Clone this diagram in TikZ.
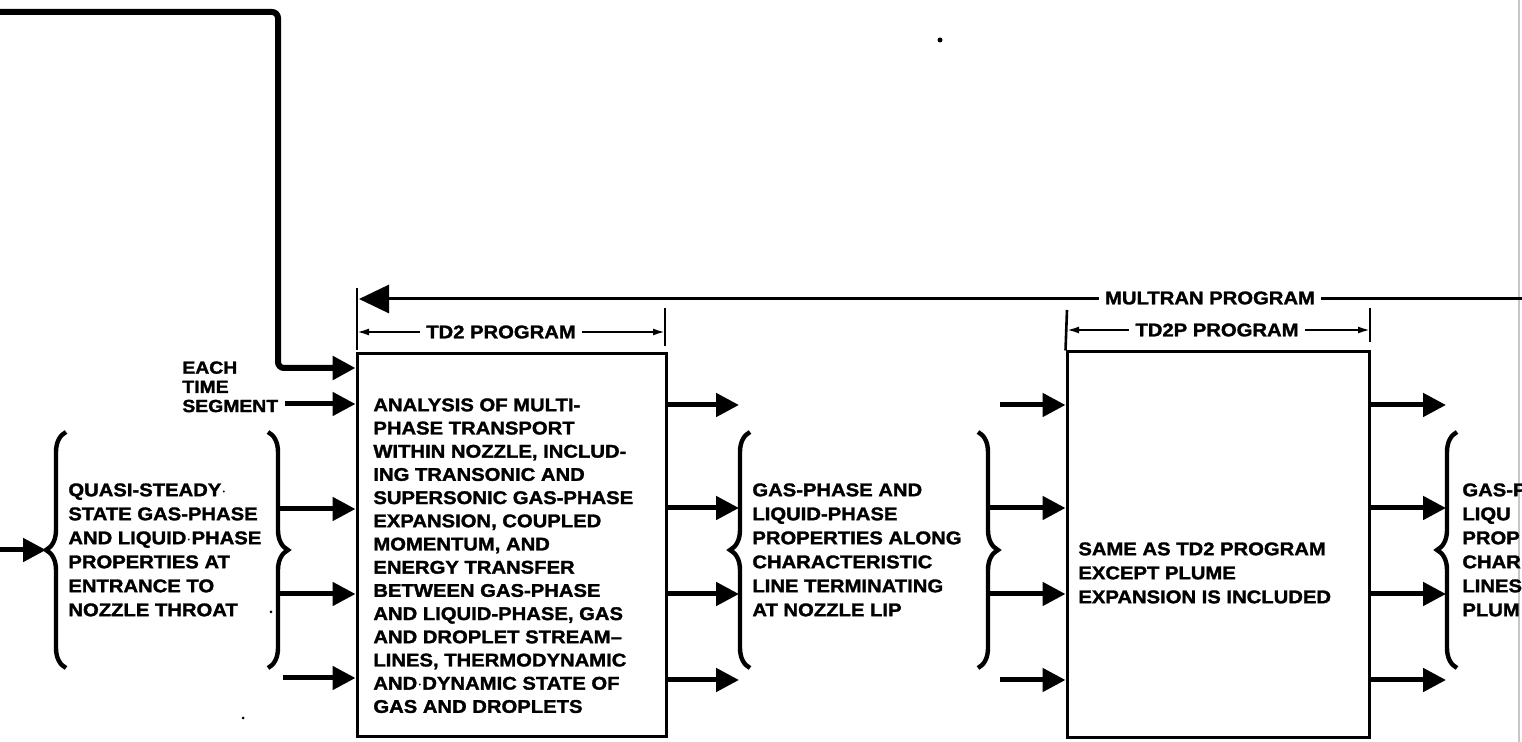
\documentclass[tikz,border=0pt]{standalone}
\usepackage{fontspec}
\newfontfamily\scanfont{Liberation Sans Bold}[FakeStretch=1.1, FakeBold=1.6]
\usetikzlibrary{arrows.meta, decorations.pathreplacing, positioning}

\newcommand\capsfont{\scanfont\fontsize{9.2}{12}\selectfont}

\tikzset{
  flow/.style={line width=2.5pt, -{Triangle[length=11.5pt, width=11.5pt]}},
  blk/.style={draw, line width=1.5pt, inner sep=0pt},
  txt/.style={inner sep=0pt, anchor=north west, align=left, font=\capsfont},
  curly/.style={decorate, decoration={brace, amplitude=10pt}, line width=2.2pt},
  span/.style={line width=1pt, {Latex[length=6pt, width=3.5pt]}-{Latex[length=6pt, width=3.5pt]}},
  endmark/.style={line width=1.3pt},
  tag/.style={fill=white, inner xsep=3pt, inner ysep=1pt, font=\capsfont},
}

\begin{document}
\begin{tikzpicture}[x=0.5pt, y=-0.5pt]
    \clip (0,0) rectangle (1522,742);
    % rand der vorlage
    \draw[gray!45, line width=1.2pt] (1519,0) -- (1519,742);
    \fill (940,40) circle (2.5);
    \fill (271,612) circle (1.5);
    \fill (243,718) circle (1.5);

    % --- Programmbloecke ---
    \node[blk, minimum width=154.5pt, minimum height=191.5pt] (td2) at (511.5,545.5) {};
    \node[blk, minimum width=151pt, minimum height=193pt] (td2p) at (1218,545) {};

    % --- MULTRAN ---
    \draw[line width=1.5pt, -{Triangle[length=15pt, width=14pt]}] (1522,299) -- (359,299);
    \node[tag] (multran) at (1210,298) {MULTRAN PROGRAM};

    % --- TD2 / TD2P Bereich ---
    \draw[endmark] (357,350) -- (357,288);
    \draw[endmark] (665,346) -- (665,308);
    \draw[span] (357,332) -- (665,332);
    \node[tag] (td2tag) at (501,332) {TD2 PROGRAM};
    \draw[endmark] (td2p.north west) -- (1067,310);
    \draw[endmark] (1370,342) -- (1370,308);
    \draw[span] (1067,330) -- (1370,330);
    \node[tag] (td2ptag) at (1217,330) {TD2P PROGRAM};

    % --- Texte ---
    \node[txt, font=\scanfont\fontsize{9.2}{11.6}\selectfont] (core) at (373,398)
        {ANALYSIS OF MULTI-\\PHASE TRANSPORT\\WITHIN NOZZLE, INCLUD-\\ING TRANSONIC AND\\
         SUPERSONIC GAS-PHASE\\EXPANSION, COUPLED\\MOMENTUM, AND\\ENERGY TRANSFER\\
         BETWEEN GAS-PHASE\\AND LIQUID-PHASE, GAS\\AND DROPLET STREAM–\\
         LINES, THERMODYNAMIC\\AND$\cdot$DYNAMIC STATE OF\\GAS AND DROPLETS};
    \node[txt] (same) at (1078,542) {SAME AS TD2 PROGRAM\\EXCEPT PLUME\\EXPANSION IS INCLUDED};
    \node[txt] (inlet) at (68,483)
        {QUASI-STEADY$\cdot$\\STATE GAS-PHASE\\AND LIQUID$\cdot$PHASE\\PROPERTIES AT\\ENTRANCE TO\\NOZZLE THROAT};
    \node[txt] (lip) at (752,483)
        {GAS-PHASE AND\\LIQUID-PHASE\\PROPERTIES ALONG\\CHARACTERISTIC\\LINE TERMINATING\\AT NOZZLE LIP};
    \node[txt] (plume) at (1462,483) {GAS-P\\LIQU\\PROP\\CHAR\\LINES\\PLUM};
    \node[txt, font=\scanfont\fontsize{8.8}{9.6}\selectfont] (seg) at (182,361) {EACH\\TIME\\SEGMENT};

    % --- Klammern ---
    \draw[curly] (66,668) -- (66,432);
    \draw[curly] (268,432) -- (268,668);
    \draw[curly] (750,668) -- (750,432);
    \draw[curly] (978,432) -- (978,668);
    \draw[curly] (1457,668) -- (1457,432);

    % --- Pfeile ---
    \coordinate (feed) at (0,12);
    \coordinate (segout) at (285,404);
    \coordinate (src) at (0,550);
    \coordinate (lbtip) at (46,550);
    \draw[flow, line width=3pt, rounded corners=3pt] (feed) -- (278,12) -- (278,368) -- (td2.west |- 0,368);
    \draw[flow] (segout) -- (td2.west |- segout);
    \draw[flow] (src) -- (lbtip);
    \foreach \y in {509,594}
        \draw[flow] (278,\y) -- (td2.west |- 0,\y);
    \draw[flow] (283,678) -- (td2.west |- 0,678);
    \foreach \y in {405,508,594,680}
        \draw[flow] (td2.east |- 0,\y) -- (739,\y);
    \foreach \y in {508,594}
        \draw[flow] (988,\y) -- (td2p.west |- 0,\y);
    \foreach \y in {405,680}
        \draw[flow] (1000,\y) -- (td2p.west |- 0,\y);
    \foreach \y in {405,508,594,680}
        \draw[flow] (td2p.east |- 0,\y) -- (1446,\y);
\end{tikzpicture}
\end{document}
